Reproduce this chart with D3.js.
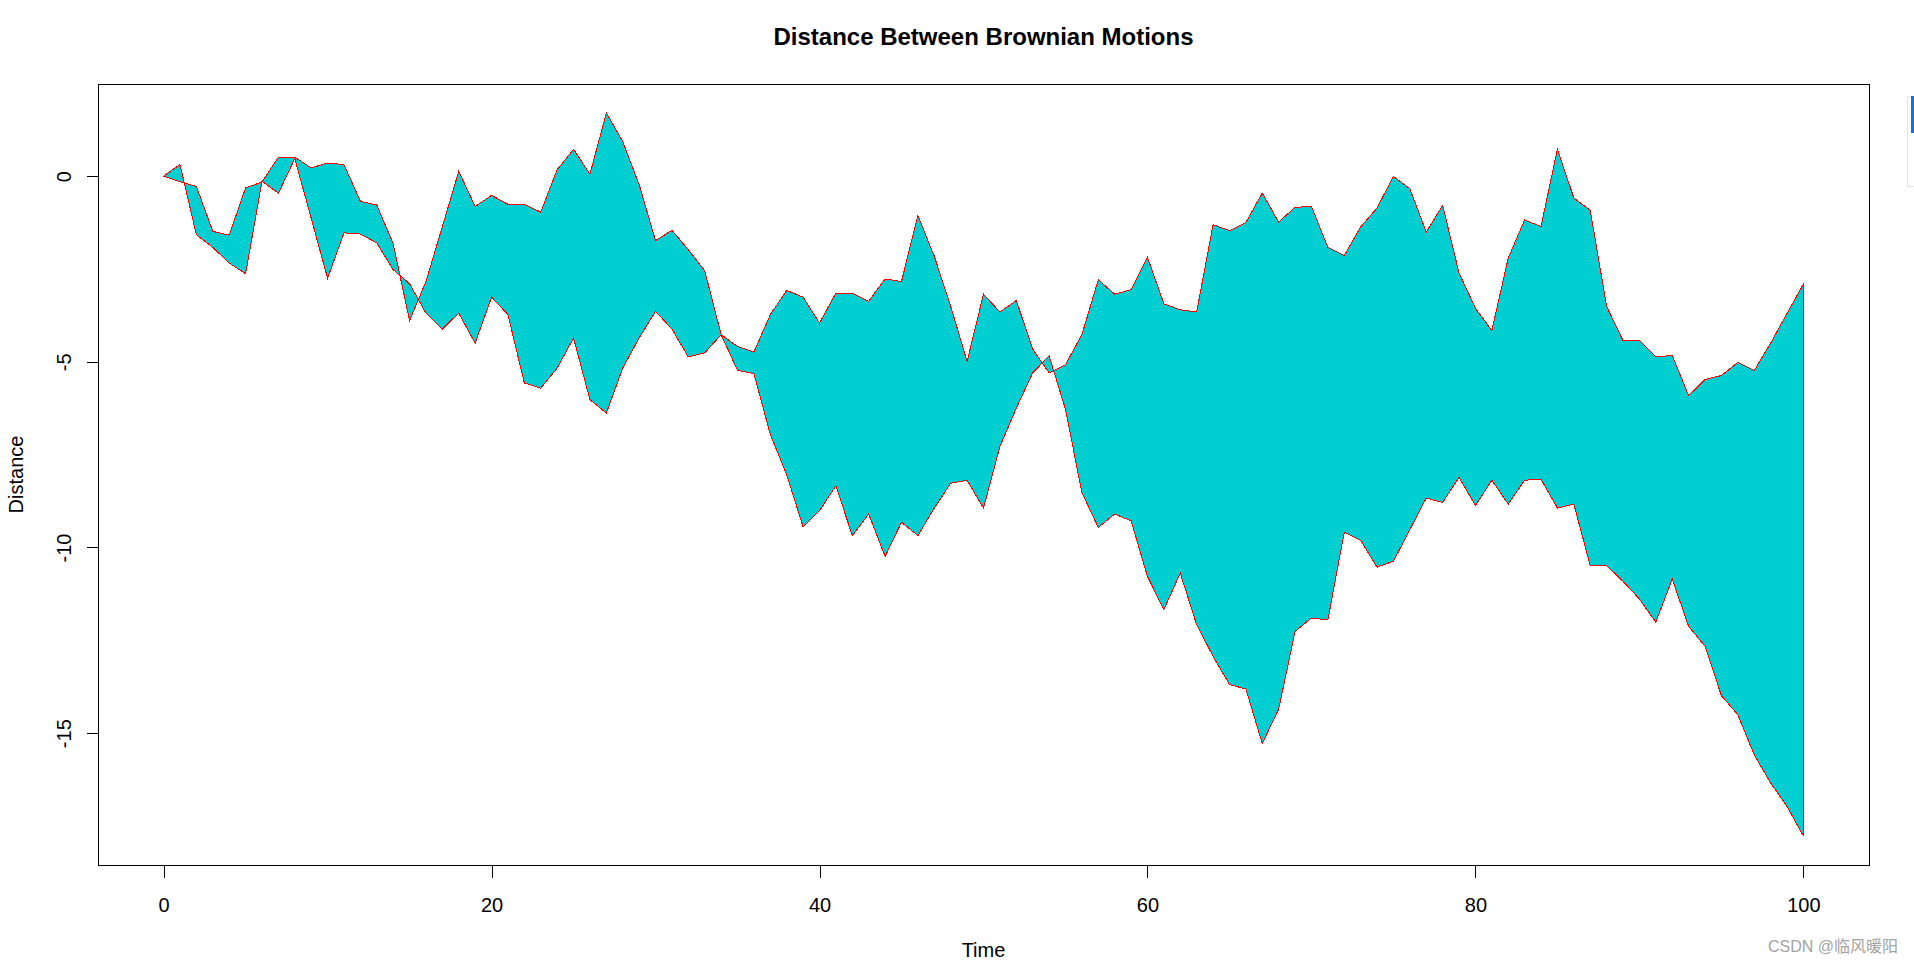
<!DOCTYPE html>
<html>
<head>
<meta charset="utf-8">
<script src="https://cdn.jsdelivr.net/npm/d3@7"></script>
<style>
  body { margin: 0; background: #fff; }
  text { font-family: "Liberation Sans", Arial, sans-serif; }
</style>
</head>
<body>
<div id="chart"></div>
<script>
var timeSteps = [0, 1, 2, 3, 4, 5, 6, 7, 8, 9, 10, 11, 12, 13, 14, 15, 16, 17, 18, 19, 20,
  21, 22, 23, 24, 25, 26, 27, 28, 29, 30, 31, 32, 33, 34, 35, 36, 37, 38, 39, 40,
  41, 42, 43, 44, 45, 46, 47, 48, 49, 50, 51, 52, 53, 54, 55, 56, 57, 58, 59, 60,
  61, 62, 63, 64, 65, 66, 67, 68, 69, 70, 71, 72, 73, 74, 75, 76, 77, 78, 79, 80,
  81, 82, 83, 84, 85, 86, 87, 88, 89, 90, 91, 92, 93, 94, 95, 96, 97, 98, 99, 100];

var motionA = [0, 0.31, -1.58, -1.92, -2.34, -2.63, -0.14, -0.46, 0.47, -1.13, -2.75,
  -1.53, -1.56, -1.80, -2.52, -2.90, -3.69, -4.12, -3.69, -4.50, -3.26,
  -3.73, -5.57, -5.71, -5.17, -4.36, -6.02, -6.38, -5.17, -4.36, -3.64,
  -4.12, -4.87, -4.76, -4.27, -5.23, -5.32, -6.96, -8.04, -9.45, -9.01,
  -8.34, -9.68, -9.10, -10.24, -9.32, -9.68, -8.94, -8.27, -8.19, -8.94,
  -7.28, -6.25, -5.30, -4.84, -6.28, -8.52, -9.46, -9.10, -9.28, -10.78,
  -11.67, -10.69, -12.08, -12.93, -13.69, -13.81, -15.28, -14.35, -12.26, -11.90,
  -11.95, -9.59, -9.81, -10.53, -10.37, -9.52, -8.67, -8.79, -8.11, -8.87,
  -8.19, -8.83, -8.19, -8.16, -8.94, -8.83, -10.49, -10.49, -10.91, -11.39,
  -12.01, -10.85, -12.12, -12.66, -13.99, -14.50, -15.58, -16.34, -16.97, -17.77];

var motionB = [0, -0.15, -0.28, -1.49, -1.59, -0.32, -0.16, 0.51, 0.51, 0.22, 0.35,
  0.31, -0.68, -0.78, -1.82, -3.89, -2.84, -1.36, 0.13, -0.82, -0.52,
  -0.76, -0.76, -0.97, 0.17, 0.72, 0.05, 1.70, 0.93, -0.23, -1.74,
  -1.46, -1.98, -2.55, -4.27, -4.59, -4.74, -3.73, -3.08, -3.26, -3.96,
  -3.15, -3.15, -3.37, -2.77, -2.84, -1.06, -2.16, -3.51, -4.99, -3.18,
  -3.66, -3.35, -4.66, -5.30, -5.08, -4.27, -2.79, -3.18, -3.06, -2.19,
  -3.44, -3.60, -3.66, -1.31, -1.47, -1.25, -0.46, -1.24, -0.84, -0.82,
  -1.92, -2.14, -1.37, -0.86, -0.01, -0.34, -1.51, -0.79, -2.61, -3.56,
  -4.16, -2.21, -1.18, -1.36, 0.73, -0.59, -0.92, -3.51, -4.43, -4.43,
  -4.87, -4.83, -5.91, -5.48, -5.37, -5.02, -5.24, -4.50, -3.70, -2.91];

var xTicks = [0, 20, 40, 60, 80, 100];
var yTicks = [0, -5, -10, -15];

function drawChart() {
  var width = 1914, height = 965;
  var left = 98, right = 1869, top = 84, bottom = 865;

  var svg = d3.select("#chart")
    .append("svg")
    .attr("width", width)
    .attr("height", height);

  // R pads the data range by 4% on each side
  var xExt = d3.extent(timeSteps);
  var yExt = d3.extent(motionA.concat(motionB));
  var xPad = (xExt[1] - xExt[0]) * 0.04;
  var yPad = (yExt[1] - yExt[0]) * 0.04;

  var x = d3.scaleLinear()
    .domain([xExt[0] - xPad, xExt[1] + xPad])
    .range([left, right]);
  var y = d3.scaleLinear()
    .domain([yExt[0] - yPad, yExt[1] + yPad])
    .range([bottom, top]);

  // polygon(c(t, rev(t)), c(a, rev(b)))
  var outline = timeSteps.map(function(t, i) { return [t, motionA[i]]; })
    .concat(timeSteps.map(function(t, i) { return [t, motionB[i]]; }).reverse());

  var line = d3.line()
    .x(function(d) { return x(d[0]); })
    .y(function(d) { return y(d[1]); });

  svg.append("path")
    .attr("d", line(outline) + "Z")
    .style("fill", "#00ced1")
    .style("stroke", "red")
    .style("stroke-width", 1)
    .attr("shape-rendering", "crispEdges");

  // box
  svg.append("rect")
    .attr("x", left + 0.5)
    .attr("y", top + 0.5)
    .attr("width", right - left)
    .attr("height", bottom - top)
    .style("fill", "none")
    .style("stroke", "black")
    .style("stroke-width", 1)
    .attr("shape-rendering", "crispEdges");

  var xAxis = svg.append("g")
    .attr("transform", "translate(0," + (bottom + 0.5) + ")")
    .call(d3.axisBottom(x)
      .tickValues(xTicks)
      .tickSize(12)
      .tickSizeOuter(0)
      .tickPadding(20)
      .tickFormat(function(d) { return String(d); }));
  xAxis.select(".domain").remove();
  xAxis.selectAll("line").attr("stroke", "black").attr("shape-rendering", "crispEdges");
  xAxis.selectAll("text")
    .attr("fill", "black")
    .style("font-size", "20px")
    .style("font-family", "\"Liberation Sans\", Arial, sans-serif");

  var yAxis = svg.append("g")
    .attr("transform", "translate(" + (left + 0.5) + ",0)")
    .call(d3.axisLeft(y)
      .tickValues(yTicks)
      .tickSize(12)
      .tickSizeOuter(0)
      .tickFormat(function(d) { return String(d); }));
  yAxis.select(".domain").remove();
  yAxis.selectAll("line").attr("stroke", "black").attr("shape-rendering", "crispEdges");
  yAxis.selectAll("text")
    .attr("x", null)
    .attr("dy", null)
    .attr("text-anchor", "middle")
    .attr("transform", "translate(-28,0) rotate(-90)")
    .attr("fill", "black")
    .style("font-size", "20px")
    .style("font-family", "\"Liberation Sans\", Arial, sans-serif");

  svg.append("text")
    .attr("x", (left + right) / 2)
    .attr("y", 45)
    .attr("text-anchor", "middle")
    .style("font-size", "24px")
    .style("font-weight", "bold")
    .text("Distance Between Brownian Motions");

  svg.append("text")
    .attr("x", (left + right) / 2)
    .attr("y", 957)
    .attr("text-anchor", "middle")
    .style("font-size", "20px")
    .text("Time");

  svg.append("text")
    .attr("transform", "translate(23," + (top + bottom) / 2 + ") rotate(-90)")
    .attr("text-anchor", "middle")
    .style("font-size", "20px")
    .text("Distance");

  // watermark
  svg.append("text")
    .attr("x", 1898)
    .attr("y", 952)
    .attr("text-anchor", "end")
    .style("font-size", "16px")
    .style("font-family", "\"Liberation Sans\", \"Noto Sans CJK SC\", sans-serif")
    .style("fill", "#a3a3a3")
    .text("CSDN @临风暖阳");

  // little page widget cut off at the right edge
  svg.append("rect")
    .attr("x", 1907.5).attr("y", 96.5)
    .attr("width", 10).attr("height", 90)
    .style("fill", "white")
    .style("stroke", "#e4e4e4");
  svg.append("rect")
    .attr("x", 1911).attr("y", 96)
    .attr("width", 3).attr("height", 37)
    .style("fill", "#1f6fce");
}

drawChart();
</script>
</body>
</html>
